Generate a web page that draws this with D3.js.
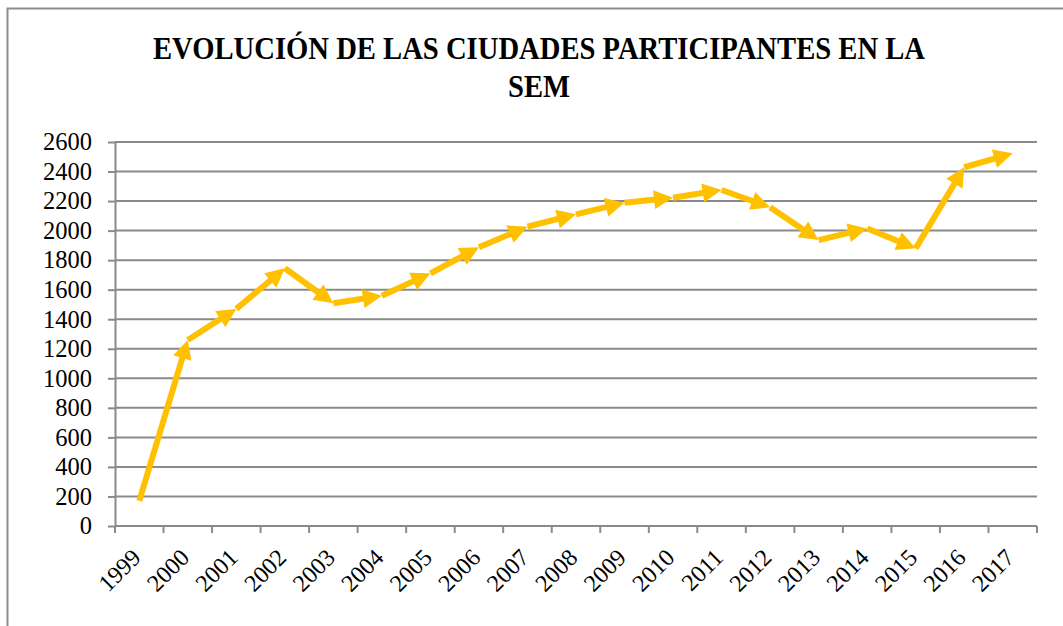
<!DOCTYPE html>
<html>
<head>
<meta charset="utf-8">
<script src="https://cdn.jsdelivr.net/npm/d3@7"></script>
<style>
  body { margin: 0; background: #fff; }
  svg { display: block; }
</style>
</head>
<body>
<svg id="chart" width="1063" height="626"></svg>
<script>
// data
const years = ['1999','2000','2001','2002','2003','2004','2005','2006','2007','2008',
               '2009','2010','2011','2012','2013','2014','2015','2016','2017'];
const ciudades = [170, 1260, 1470, 1745, 1508, 1559, 1711, 1887, 2027, 2110,
                  2189, 2223, 2275, 2158, 1936, 2015, 1880, 2429, 2523];
const yTicks = [0, 200, 400, 600, 800, 1000, 1200, 1400, 1600, 1800, 2000, 2200, 2400, 2600];
const titleLines = ['EVOLUCIÓN DE LAS CIUDADES PARTICIPANTES EN LA', 'SEM'];

const svg = d3.select('#chart');
const gridColor = '#8a8a8a';
const lineColor = '#FFC000';
const labelFont = '"Liberation Serif", "Times New Roman", serif';

let plot = {left: 115, right: 1037, top: 142, bottom: 526};

// outer chart border (runs off the picture on the right and bottom)
svg.append('rect')
    .attr('x', 7.5).attr('y', 8.5)
    .attr('width', 1200).attr('height', 800)
    .attr('fill', 'none')
    .attr('stroke', '#8c8c8c')
    .attr('stroke-width', 2);

// title
let title = svg.append('g')
    .attr('font-family', labelFont)
    .attr('font-weight', 'bold')
    .attr('font-size', 31)
    .attr('fill', '#000');
title.append('text')
    .attr('x', 539).attr('y', 58.5)
    .attr('text-anchor', 'middle')
    .attr('textLength', 772)
    .attr('lengthAdjust', 'spacingAndGlyphs')
    .text(titleLines[0]);
title.append('text')
    .attr('x', 539).attr('y', 97)
    .attr('text-anchor', 'middle')
    .attr('textLength', 62)
    .attr('lengthAdjust', 'spacingAndGlyphs')
    .text(titleLines[1]);

let x = d3.scaleBand().domain(years).range([plot.left, plot.right]).paddingInner(0).paddingOuter(0);
let y = d3.scaleLinear().domain([0, 2600]).range([plot.bottom, plot.top]);
let cx = function (d) { return x(d) + x.bandwidth() / 2; };

// horizontal gridlines
svg.append('g')
    .selectAll('line')
    .data(yTicks)
    .enter().append('line')
    .attr('x1', plot.left).attr('x2', plot.right)
    .attr('y1', d => y(d)).attr('y2', d => y(d))
    .attr('stroke', gridColor)
    .attr('stroke-width', 2);

// y axis
let yAxis = svg.append('g')
    .attr('transform', 'translate(' + plot.left + ',0)')
    .call(d3.axisLeft(y).tickValues(yTicks).tickFormat(d3.format('d'))
        .tickSize(7).tickSizeOuter(0).tickPadding(16));
yAxis.select('.domain').attr('stroke', gridColor).attr('stroke-width', 2);
yAxis.selectAll('.tick line').attr('stroke', gridColor).attr('stroke-width', 2);
yAxis.selectAll('.tick text')
    .attr('font-family', labelFont)
    .attr('font-size', 24.5)
    .attr('fill', '#000');

// x axis: ticks sit on the category boundaries
let xg = svg.append('g');
xg.append('line')
    .attr('x1', plot.left).attr('x2', plot.right)
    .attr('y1', plot.bottom).attr('y2', plot.bottom)
    .attr('stroke', gridColor).attr('stroke-width', 2);
xg.selectAll('line.tk')
    .data(years.concat(['end']))
    .enter().append('line')
    .attr('class', 'tk')
    .attr('x1', d => d === 'end' ? plot.right : x(d))
    .attr('x2', d => d === 'end' ? plot.right : x(d))
    .attr('y1', plot.bottom).attr('y2', plot.bottom + 7)
    .attr('stroke', gridColor).attr('stroke-width', 2);
xg.selectAll('text')
    .data(years)
    .enter().append('text')
    .attr('transform', d => 'translate(' + (cx(d) + 3) + ',' + 559 + ') rotate(-45)')
    .attr('text-anchor', 'end')
    .attr('font-family', labelFont)
    .attr('font-size', 24)
    .attr('fill', '#000')
    .text(d => d);

// the series: every segment ends in an arrow head, like the original
let pts = years.map((yr, i) => [cx(yr), y(ciudades[i])]);
let lw = 6, headLen = 19, headHalf = 9.5;
let series = svg.append('g');
for (let i = 0; i < pts.length - 1; i++) {
    let a = pts[i], b = pts[i + 1];
    let dx = b[0] - a[0], dy = b[1] - a[1];
    let len = Math.sqrt(dx * dx + dy * dy);
    let ux = dx / len, uy = dy / len;
    let base = [b[0] - ux * headLen, b[1] - uy * headLen];
    series.append('line')
        .attr('x1', a[0]).attr('y1', a[1])
        .attr('x2', base[0] + ux * 1).attr('y2', base[1] + uy * 1)
        .attr('stroke', lineColor)
        .attr('stroke-width', lw)
        .attr('stroke-linecap', 'butt');
    series.append('path')
        .attr('d', 'M' + b[0] + ',' + b[1] +
                   'L' + (base[0] - uy * headHalf) + ',' + (base[1] + ux * headHalf) +
                   'L' + (base[0] + uy * headHalf) + ',' + (base[1] - ux * headHalf) + 'Z')
        .attr('fill', lineColor);
}
</script>
</body>
</html>
